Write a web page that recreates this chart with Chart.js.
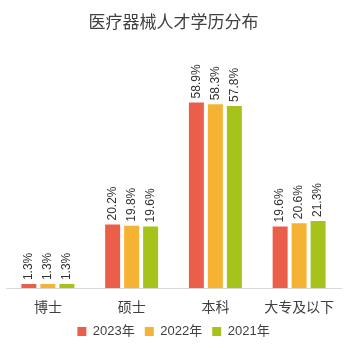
<!DOCTYPE html>
<html>
<head>
<meta charset="utf-8">
<script src="https://cdn.jsdelivr.net/npm/chart.js@4/dist/chart.umd.min.js"></script>
<style>
  html, body { margin: 0; padding: 0; background: #fff; }
  #wrap { width: 357px; height: 348px; }
</style>
</head>
<body>
<div id="wrap"><canvas id="chart"></canvas></div>
<script>
const categories = ['博士', '硕士', '本科', '大专及以下'];
const seriesNames = ['2023年', '2022年', '2021年'];
const values2023 = [1.3, 20.2, 58.9, 19.6];
const values2022 = [1.3, 19.8, 58.3, 20.6];
const values2021 = [1.3, 19.6, 57.8, 21.3];
const colors = ['#EB5F4A', '#F6B333', '#A6C31B'];

const fontFamily = '"Liberation Sans", Arial, "Noto Sans CJK SC", sans-serif';

// draws rotated value labels above each bar
const barLabels = {
  id: 'barLabels',
  afterDatasetsDraw(chart) {
    const ctx = chart.ctx;
    ctx.save();
    ctx.font = '12px ' + fontFamily;
    ctx.fillStyle = '#333333';
    ctx.textAlign = 'left';
    ctx.textBaseline = 'middle';
    chart.data.datasets.forEach((ds, i) => {
      chart.getDatasetMeta(i).data.forEach((bar, j) => {
        ctx.save();
        ctx.translate(bar.x, bar.y - 4);
        ctx.rotate(-Math.PI / 2);
        ctx.fillText(ds.data[j].toFixed(1) + '%', 0, 0);
        ctx.restore();
      });
    });
    ctx.restore();
  }
};

new Chart(document.getElementById('chart'), {
  type: 'bar',
  data: {
    labels: categories,
    datasets: [
      { label: seriesNames[0], data: values2023, backgroundColor: colors[0] },
      { label: seriesNames[1], data: values2022, backgroundColor: colors[1] },
      { label: seriesNames[2], data: values2021, backgroundColor: colors[2] }
    ]
  },
  options: {
    responsive: true,
    maintainAspectRatio: false,
    animation: false,
    datasets: {
      bar: { categoryPercentage: 0.68, barPercentage: 0.79 }
    },
    layout: { padding: { left: 6, right: 16, top: 0, bottom: 0 } },
    scales: {
      x: {
        grid: { display: false },
        border: { display: true, color: '#d9d9d9', width: 1 },
        ticks: { color: '#404040', font: { size: 14, family: fontFamily }, padding: 4 },
        afterFit(scale) { scale.height -= 6; }
      },
      y: { display: false, min: 0, max: 70 }
    },
    plugins: {
      title: {
        display: true,
        text: '医疗器械人才学历分布',
        color: '#404040',
        font: { size: 17, weight: 'normal', family: fontFamily },
        padding: { top: 13, bottom: 34 }
      },
      legend: {
        position: 'bottom',
        labels: {
          boxWidth: 9,
          boxHeight: 9,
          padding: 10,
          color: '#404040',
          font: { size: 13, family: fontFamily }
        }
      },
      tooltip: { enabled: false }
    }
  },
  plugins: [barLabels]
});
</script>
</body>
</html>
